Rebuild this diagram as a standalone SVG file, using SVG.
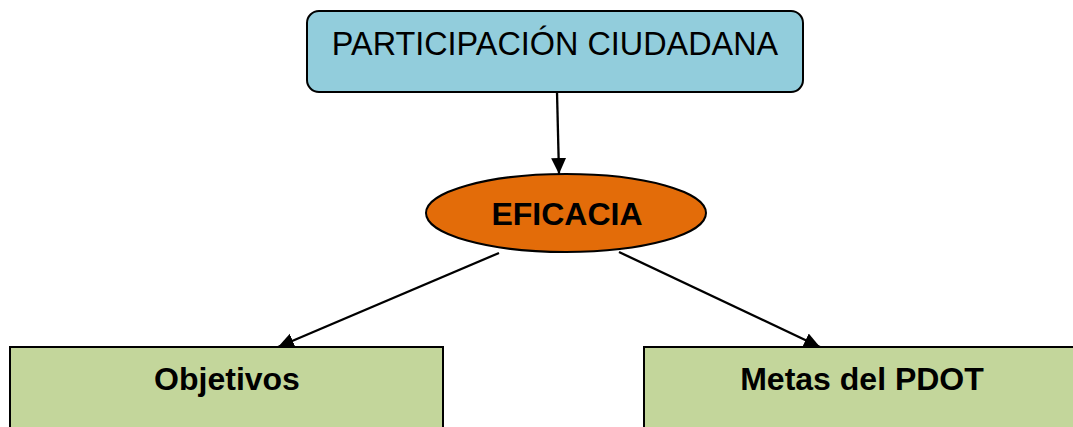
<svg xmlns="http://www.w3.org/2000/svg" width="1073" height="427" viewBox="0 0 1073 427">
<style>
.conn{stroke:#000;stroke-width:2.3;fill:none;marker-end:url(#ah)}
.box{stroke:#000;stroke-width:2}
.t{font-family:"Liberation Sans",Arial,sans-serif;fill:#000;text-anchor:middle}
.b{font-weight:bold;font-size:32px}
</style>
<defs>
<marker id="ah" markerUnits="userSpaceOnUse" markerWidth="18" markerHeight="18" viewBox="0 0 18 18" refX="16" refY="9" orient="auto">
<path d="M0,1.5 L16,9 L0,16.5 Z" fill="#000"/>
</marker>
</defs>
<rect width="1073" height="427" fill="#fff"/>
<g id="connectors">
<line class="conn" x1="557" y1="92" x2="559" y2="174"/>
<line class="conn" x1="499" y1="253" x2="278" y2="347"/>
<line class="conn" x1="619" y1="252" x2="820" y2="347"/>
</g>
<g id="participacion">
<rect class="box" x="307" y="11" width="496" height="81" rx="12" fill="#92CDDC"/>
<text class="t" x="555" y="55" font-size="32.4">PARTICIPACIÓN CIUDADANA</text>
</g>
<g id="eficacia">
<ellipse class="box" cx="566" cy="213" rx="140" ry="39" fill="#E36C09"/>
<text class="t b" x="567" y="225">EFICACIA</text>
</g>
<g id="objetivos">
<rect class="box" x="10" y="347" width="433" height="100" fill="#C3D69B"/>
<text class="t b" x="227" y="390">Objetivos</text>
</g>
<g id="metas">
<rect class="box" x="644" y="347" width="450" height="100" fill="#C3D69B"/>
<text class="t b" x="862" y="390">Metas del PDOT</text>
</g>
</svg>
